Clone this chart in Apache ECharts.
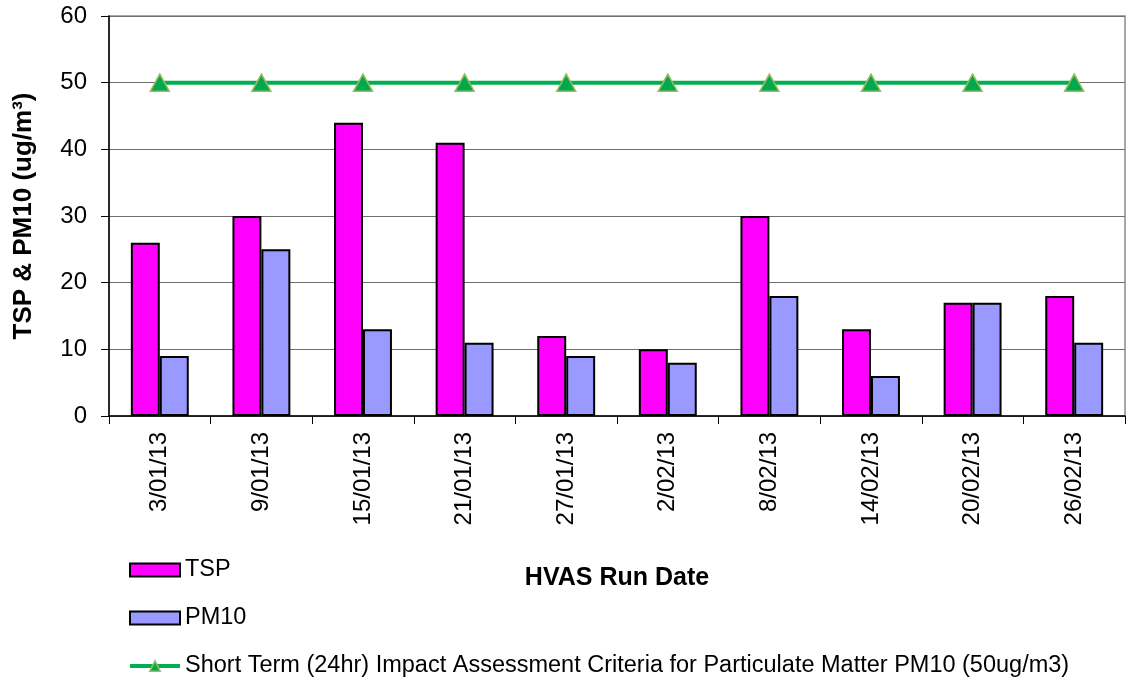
<!DOCTYPE html>
<html>
<head>
<meta charset="utf-8">
<script src="https://cdn.jsdelivr.net/npm/echarts@6/dist/echarts.min.js"></script>
<style>
  html, body { margin: 0; padding: 0; background: #fff; }
  #chart { width: 1131px; height: 682px; }
</style>
</head>
<body>
<div id="chart"></div>
<script>
// HVAS sampling run dates
const runDates = ['3/01/13', '9/01/13', '15/01/13', '21/01/13', '27/01/13',
                  '2/02/13', '8/02/13', '14/02/13', '20/02/13', '26/02/13'];
// Measured concentrations (ug/m3)
const tspValues  = [26, 30, 44, 41, 12, 10, 30, 13, 17, 18];
const pm10Values = [9, 25, 13, 11, 9, 8, 18, 6, 17, 11];
// 24hr PM10 assessment criterion
const criteriaValues = [50, 50, 50, 50, 50, 50, 50, 50, 50, 50];
const yTicks = [0, 10, 20, 30, 40, 50, 60];

const CRITERIA_NAME = 'Short Term (24hr) Impact Assessment Criteria for Particulate Matter PM10 (50ug/m3)';
const FONT = '"Liberation Sans", Arial, sans-serif';
const chart = echarts.init(document.getElementById('chart'), null, { renderer: 'canvas' });

chart.setOption({
  animation: false,
  textStyle: { fontFamily: FONT },
  grid: {
    left: 109, right: 6, top: 16, bottom: 266,
    show: true, borderColor: '#8c8c8c', borderWidth: 1.5, backgroundColor: '#fff'
  },
  legend: {
    orient: 'vertical',
    left: 128, top: 558, padding: 0,
    itemWidth: 50, itemHeight: 13, itemGap: 24,
    textStyle: { fontFamily: FONT, fontSize: 23.5, color: '#000' },
    data: [
      { name: 'TSP', icon: 'rect' },
      { name: 'PM10', icon: 'rect' },
      {
        name: CRITERIA_NAME,
        lineStyle: { color: '#00b050', width: 4 },
        itemStyle: { color: '#00a850', borderColor: '#9bbb59', borderWidth: 1.5 }
      }
    ]
  },
  xAxis: {
    type: 'category',
    data: runDates,
    boundaryGap: true,
    name: 'HVAS Run Date',
    nameLocation: 'middle',
    nameGap: 150,
    nameTextStyle: { fontFamily: FONT, fontSize: 25, fontWeight: 'bold', color: '#000', verticalAlign: 'top' },
    axisLine: { lineStyle: { color: '#000', width: 1.5 } },
    axisTick: { show: true, length: 8, lineStyle: { color: '#000' } },
    axisLabel: { rotate: 90, margin: 16, fontSize: 24, color: '#000', fontFamily: FONT },
    splitLine: { show: false }
  },
  yAxis: {
    type: 'value',
    min: 0, max: 60, interval: 10,
    name: 'TSP & PM10 (ug/m³)',
    nameLocation: 'middle',
    nameRotate: 90,
    nameGap: 72,
    nameTextStyle: { fontFamily: FONT, fontSize: 26, fontWeight: 'bold', color: '#000' },
    axisLine: { show: true, lineStyle: { color: '#000', width: 1.5 } },
    axisTick: { show: true, length: 8, lineStyle: { color: '#000' } },
    axisLabel: {
      margin: 22, fontSize: 24, color: '#000', fontFamily: FONT,
      formatter: v => (yTicks.includes(v) ? String(v) : '')
    },
    splitLine: { show: true, lineStyle: { color: '#6e6e6e', width: 1 } }
  },
  series: [
    {
      name: 'TSP', type: 'bar', data: tspValues,
      barGap: '0%', barCategoryGap: '43%',
      itemStyle: { color: '#ff00ff', borderColor: '#000', borderWidth: 2 }
    },
    {
      name: 'PM10', type: 'bar', data: pm10Values,
      itemStyle: { color: '#9999ff', borderColor: '#000', borderWidth: 2 }
    },
    {
      name: CRITERIA_NAME,
      type: 'line', data: criteriaValues,
      symbol: 'triangle', symbolSize: [19, 17],
      lineStyle: { color: '#00b050', width: 4 },
      itemStyle: { color: '#00a850', borderColor: '#9bbb59', borderWidth: 1.5 },
      z: 5
    }
  ]
});
</script>
</body>
</html>
